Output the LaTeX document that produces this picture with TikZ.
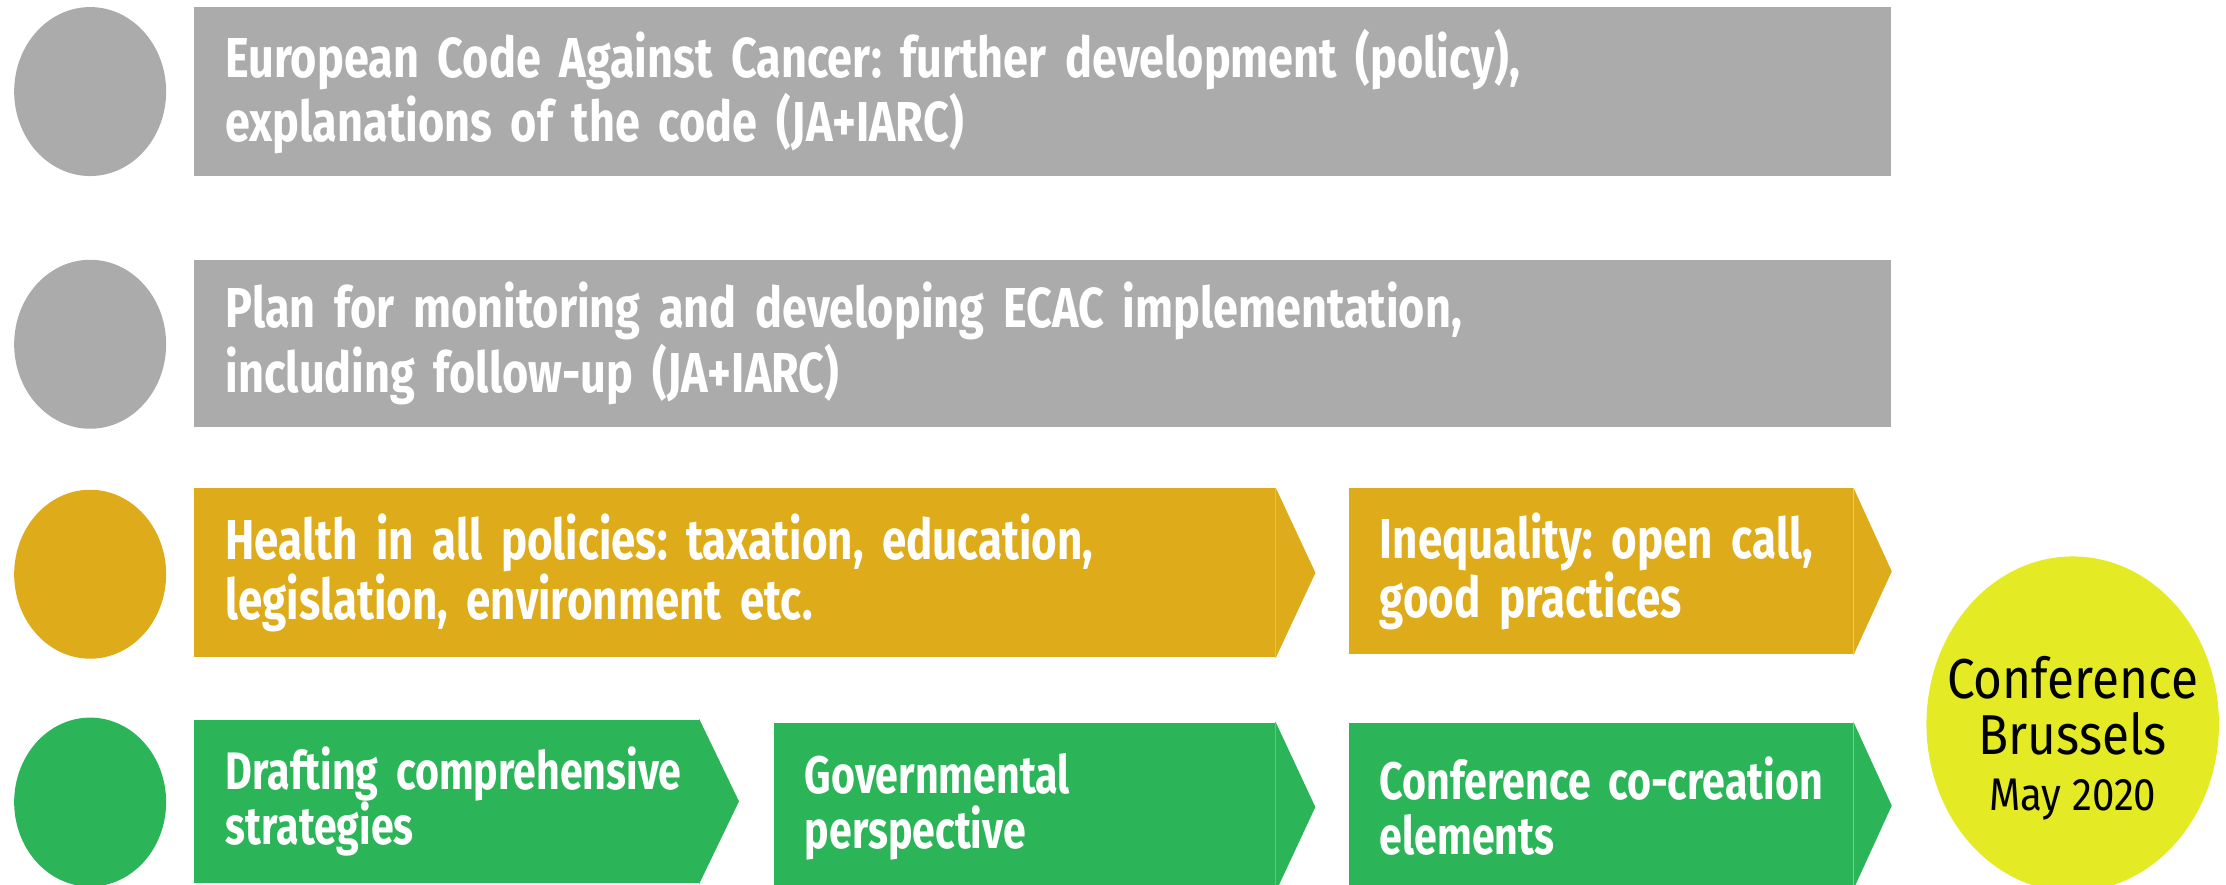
\documentclass[tikz,border=0pt]{standalone}
\usepackage{fontspec}
\usetikzlibrary{shapes.geometric,calc}
\newfontfamily\barfont[FakeStretch=0.78, WordSpace=2.6]{Fira Sans}
\newfontfamily\codefont[FakeStretch=0.80, WordSpace=1.8]{Fira Sans}
\newfontfamily\conffont[FakeStretch=0.88]{Fira Sans}
\definecolor{ecac gray}{rgb}{0.6706, 0.6706, 0.6706}
\definecolor{ecac gold}{rgb}{0.8706, 0.6706, 0.1020}
\definecolor{ecac green}{rgb}{0.1686, 0.7098, 0.3451}
\definecolor{ecac yellow}{rgb}{0.8941, 0.9176, 0.1412}
\newcommand{\pxu}{0.014196cm}
\frenchspacing
\hyphenpenalty=10000
\exhyphenpenalty=10000

\begin{document}
\begin{tikzpicture}[x=\pxu, y=-\pxu,
		row dot/.style = {ellipse, inner sep=0pt, minimum width=1.519cm, minimum height=1.689cm},
		bar/.style = {rectangle, inner xsep=0.312cm, inner ysep=0pt, text=white, align=left,
			font=\barfont\bfseries\fontsize{15}{15.6}\selectfont},
		gold bar/.style = {bar, fill=ecac gold,
			font=\barfont\bfseries\fontsize{16}{17}\selectfont},
		code bar/.style = {bar, fill=ecac gray, text width=16.339cm,
			font=\codefont\bfseries\fontsize{16}{16}\selectfont}]
	\useasboundingbox (0, 0) rectangle (1568, 623);
	% gray rows
	\begin{scope}
		\node[row dot, fill=ecac gray] (dot1) at (63.5, 64.5) {};
		\node[code bar, minimum height=1.689cm] (code) at (734.5, 64.5)
			{European Code Against Cancer: further development (policy),\\ explanations of the code (JA+IARC)};
		\node[row dot, fill=ecac gray] (dot2) at (63.5, 242.5) {};
		\node[code bar, minimum height=1.675cm] (plan) at (734.5, 242)
			{Plan for monitoring and developing ECAC implementation,\\ including follow-up (JA+IARC)};
	\end{scope}
	% gold row
	\begin{scope}
		\node[row dot, fill=ecac gold] (dot3) at (63.5, 404.5) {};
		\node[gold bar, text width=10.178cm, minimum height=1.689cm] (health) at (517.5, 403.5)
			{Health in all policies: taxation, education,\\ legislation, environment etc.};
		\node[gold bar, text width=4.415cm, minimum height=1.661cm] (inequal) at (1127.5, 402.5)
			{Inequality:~open~call,\\ good practices};
	\end{scope}
	% green row
	\begin{scope}
		\node[row dot, fill=ecac green] (dot4) at (63.5, 565) {};
		\node[bar, fill=ecac green, text width=4.415cm, minimum height=1.633cm] (draft) at (314.5, 564.5)
			{Drafting~comprehensive\\ strategies};
		\node[bar, fill=ecac green, text width=4.386cm, minimum height=1.689cm] (gov) at (721.5, 568.5)
			{Governmental\\ perspective};
		\node[bar, fill=ecac green, text width=4.415cm, minimum height=1.661cm] (cocreate) at (1127.5, 567.5)
			{Conference~co-creation\\ elements};
	\end{scope}
	% arrow tips
	\fill[ecac gold] (health.north east) -- ($(health.east)+(28, 0)$) -- (health.south east) -- cycle;
	\fill[ecac gold] (inequal.north east) -- ($(inequal.east)+(27, 0)$) -- (inequal.south east) -- cycle;
	\fill[ecac green] (draft.north east) -- ($(draft.east)+(28, 0)$) -- (draft.south east) -- cycle;
	\fill[ecac green] (gov.north east) -- ($(gov.east)+(28, 0)$) -- (gov.south east) -- cycle;
	\fill[ecac green] (cocreate.north east) -- ($(cocreate.east)+(27, 0)$) -- (cocreate.south east) -- cycle;
	\draw[ecac gold!75!white, line width=0.3pt]
		(health.north east) -- (health.south east);
	\draw[ecac green!75!white, line width=0.3pt]
		(gov.north east) -- (gov.south east);
	% conference
	\node[ellipse, fill=ecac yellow, inner sep=0pt, minimum width=2.924cm, minimum height=3.35cm] (conf) at (1460, 510) {};
	\node[align=center, text=black, font=\conffont\fontsize{16}{16}\selectfont] (conftext) at (1460, 520)
		{Conference\\ Brussels\\ {\fontsize{13}{15}\selectfont May 2020}};
\end{tikzpicture}
\end{document}
